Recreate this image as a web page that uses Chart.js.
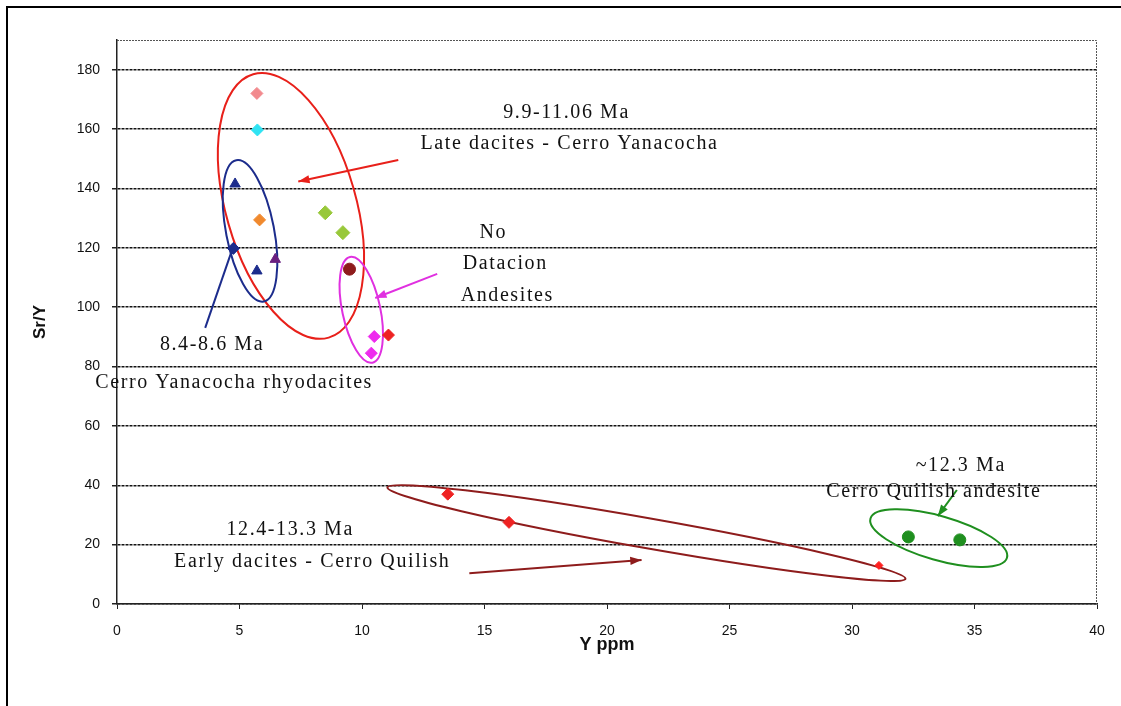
<!DOCTYPE html>
<html>
<head>
<meta charset="utf-8">
<script src="https://cdn.jsdelivr.net/npm/chart.js@4"></script>
<style>
html, body { margin: 0; padding: 0; background: #fff; }
#bordure { position: absolute; left: 6px; top: 6px; width: 1115px; height: 700px; border-left: 2px solid #000; border-top: 2px solid #000; }
#graphique { position: absolute; left: 0; top: 0; }
</style>
</head>
<body>
<div id="bordure"></div>
<canvas id="graphique" width="1121" height="706"></canvas>
<script>
// valeurs (Y ppm, Sr/Y)
var ticksX = [0, 5, 10, 15, 20, 25, 30, 35, 40];
var ticksY = [0, 20, 40, 60, 80, 100, 120, 140, 160, 180];

var seriesNoms = ['rose', 'cyan', 'bleu triangle', 'orange', 'vert clair', 'bleu', 'violet', 'brun', 'magenta', 'rouge', 'rouge petit', 'vert'];
var seriesX = [
    [5.71],
    [5.73],
    [4.82, 5.71],
    [5.82],
    [8.5, 9.22],
    [4.75],
    [6.46],
    [9.49],
    [10.5, 10.38],
    [11.08, 13.5, 16.0],
    [31.1],
    [32.3, 34.4]
];
var seriesY = [
    [172],
    [159.7],
    [141.5, 112.2],
    [129.4],
    [131.8, 125.1],
    [119.8],
    [116.1],
    [112.8],
    [90.1, 84.5],
    [90.6, 37, 27.5],
    [13],
    [22.6, 21.6]
];

// styles des séries
var seriesCouleurs = ['#f28a8e', '#2fe3f3', '#1c2c8c', '#f0892e', '#98c83a', '#1c2c8c', '#6a2080', '#8e1c1c', '#ee2aee', '#ee2222', '#ff2020', '#1f8f1f'];
var seriesFormes = ['rectRot', 'rectRot', 'triangle', 'rectRot', 'rectRot', 'rectRot', 'triangle', 'circle', 'rectRot', 'rectRot', 'rectRot', 'circle'];
var seriesTailles = [6, 6, 6, 6, 7, 6, 6, 6, 6, 6, 4, 6];

// annotations dessinées à la main sur la figure
var ellipses = [
    { x: 7.1, y: 134.1, rx: 65, ry: 137, rot: -16, couleur: '#e8201a' },
    { x: 5.43, y: 125.7, rx: 24, ry: 72, rot: -11, couleur: '#1c2c8c' },
    { x: 9.97, y: 99.1, rx: 19, ry: 54, rot: -12, couleur: '#e030e0' },
    { x: 21.61, y: 23.9, rx: 263, ry: 15, rot: 10, couleur: '#8e1c1c' },
    { x: 33.54, y: 22.2, rx: 71, ry: 22, rot: 16, couleur: '#1f8f1f' }
];
var fleches = [
    { x1: 11.48, y1: 149.6, x2: 7.40, y2: 142.3, couleur: '#e8201a', tete: true },
    { x1: 3.60, y1: 93.0, x2: 4.74, y2: 120.3, couleur: '#1c2c8c', tete: false },
    { x1: 13.07, y1: 111.2, x2: 10.54, y2: 103.1, couleur: '#e030e0', tete: true },
    { x1: 14.38, y1: 10.4, x2: 21.41, y2: 14.8, couleur: '#8e1c1c', tete: true },
    { x1: 34.28, y1: 38.4, x2: 33.50, y2: 29.6, couleur: '#1f8f1f', tete: true }
];
var textes = [
    { t: '9.9-11.06 Ma', x: 18.35, y: 165.4 },
    { t: 'Late dacites - Cerro Yanacocha', x: 18.47, y: 155.0 },
    { t: 'No', x: 15.36, y: 125.0 },
    { t: 'Datacion', x: 15.85, y: 114.6 },
    { t: 'Andesites', x: 15.93, y: 103.8 },
    { t: '8.4-8.6 Ma', x: 3.88, y: 87.3 },
    { t: 'Cerro Yanacocha rhyodacites', x: 4.78, y: 74.5 },
    { t: '~12.3 Ma', x: 34.44, y: 46.5 },
    { t: 'Cerro Quilish andesite', x: 33.34, y: 37.7 },
    { t: '12.4-13.3 Ma', x: 7.07, y: 24.9 },
    { t: 'Early dacites - Cerro Quilish', x: 7.97, y: 14.2 }
];

function GetDatasets() {
    var ds = [];
    for (var i = 0; i < seriesNoms.length; i++) {
        var pts = [];
        for (var j = 0; j < seriesX[i].length; j++) {
            pts.push({ x: seriesX[i][j], y: seriesY[i][j] });
        }
        ds.push({
            label: seriesNoms[i],
            data: pts,
            pointStyle: seriesFormes[i],
            pointRadius: seriesTailles[i],
            backgroundColor: seriesCouleurs[i],
            borderColor: seriesCouleurs[i],
            borderWidth: 1
        });
    }
    return ds;
}

var pluginAnnotations = {
    id: 'annotations',
    beforeDatasetsDraw: function (chart) {
        var ctx = chart.ctx;
        var sx = chart.scales.x, sy = chart.scales.y;
        var a = chart.chartArea;
        ctx.save();
        // cadre pointillé de la zone de tracé
        ctx.strokeStyle = '#555';
        ctx.lineWidth = 1;
        ctx.setLineDash([2, 1]);
        ctx.beginPath();
        ctx.moveTo(a.left, a.top + 0.5);
        ctx.lineTo(a.right - 0.5, a.top + 0.5);
        ctx.lineTo(a.right - 0.5, a.bottom);
        ctx.stroke();
        ctx.setLineDash([]);

        ctx.lineWidth = 2;
        ellipses.forEach(function (e) {
            ctx.strokeStyle = e.couleur;
            ctx.beginPath();
            ctx.ellipse(sx.getPixelForValue(e.x), sy.getPixelForValue(e.y), e.rx, e.ry, e.rot * Math.PI / 180, 0, Math.PI * 2);
            ctx.stroke();
        });
        fleches.forEach(function (f) {
            var x1 = sx.getPixelForValue(f.x1), y1 = sy.getPixelForValue(f.y1);
            var x2 = sx.getPixelForValue(f.x2), y2 = sy.getPixelForValue(f.y2);
            ctx.strokeStyle = f.couleur;
            ctx.fillStyle = f.couleur;
            ctx.beginPath();
            ctx.moveTo(x1, y1);
            ctx.lineTo(x2, y2);
            ctx.stroke();
            if (f.tete) {
                var ang = Math.atan2(y2 - y1, x2 - x1);
                ctx.beginPath();
                ctx.moveTo(x2, y2);
                ctx.lineTo(x2 - 12 * Math.cos(ang - 0.35), y2 - 12 * Math.sin(ang - 0.35));
                ctx.lineTo(x2 - 12 * Math.cos(ang + 0.35), y2 - 12 * Math.sin(ang + 0.35));
                ctx.closePath();
                ctx.fill();
            }
        });

        ctx.fillStyle = '#111';
        ctx.font = '20px "Liberation Serif"';
        ctx.letterSpacing = '1.6px';
        ctx.textAlign = 'center';
        ctx.textBaseline = 'middle';
        textes.forEach(function (t) {
            ctx.fillText(t.t, sx.getPixelForValue(t.x), sy.getPixelForValue(t.y));
        });
        ctx.restore();
    }
};

var ctx = document.getElementById('graphique').getContext('2d');

var grafique = new Chart(ctx, {
    type: 'scatter',
    data: { datasets: GetDatasets() },
    options: {
        responsive: false,
        animation: false,
        layout: { padding: { left: 0, top: 40, right: 24, bottom: 0 } },
        plugins: {
            legend: { display: false },
            tooltip: { enabled: false }
        },
        scales: {
            x: {
                type: 'linear',
                min: 0,
                max: 40,
                afterFit: function (s) { s.height = 102; },
                afterBuildTicks: function (s) { s.ticks = ticksX.map(function (v) { return { value: v }; }); },
                grid: { display: true, drawOnChartArea: false, color: '#222', tickLength: 5 },
                border: { color: '#222', width: 1.5, dash: [3, 1] },
                ticks: { color: '#111', padding: 14, font: { family: 'Liberation Sans', size: 14 } },
                title: { display: true, text: 'Y ppm', color: '#111', padding: { top: 0, bottom: 50 }, font: { family: 'Liberation Sans', size: 18, weight: 'bold' } }
            },
            y: {
                type: 'linear',
                min: 0,
                max: 190,
                afterFit: function (s) { s.width = 117; },
                afterBuildTicks: function (s) { s.ticks = ticksY.map(function (v) { return { value: v }; }); },
                grid: {
                    color: '#111',
                    lineWidth: 1.5,
                    tickLength: 5,
                    tickColor: '#222'
                },
                border: { color: '#222', width: 1.5, dash: [3, 1] },
                ticks: { color: '#111', padding: 12, font: { family: 'Liberation Sans', size: 14 } },
                title: { display: true, text: 'Sr/Y', color: '#111', padding: { top: 30, bottom: 0 }, font: { family: 'Liberation Sans', size: 17, weight: 'bold' } }
            }
        }
    },
    plugins: [pluginAnnotations]
});
</script>
</body>
</html>
